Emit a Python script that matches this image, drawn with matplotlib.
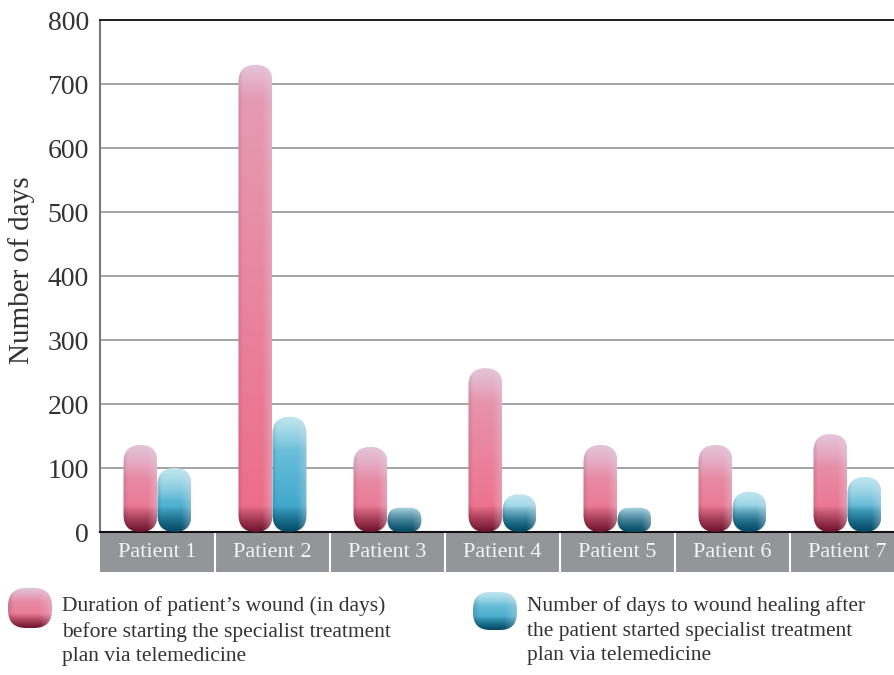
import numpy as np
import matplotlib
matplotlib.use('Agg')
import matplotlib.pyplot as plt
from matplotlib.patches import FancyBboxPatch, Rectangle

# ---- data ----
patients = ['Patient 1', 'Patient 2', 'Patient 3', 'Patient 4', 'Patient 5', 'Patient 6', 'Patient 7']
wound_duration = [136, 730, 133, 256, 136, 136, 153]
healing_days = [100, 180, 38, 59, 38, 63, 86]
yticks = [0, 100, 200, 300, 400, 500, 600, 700, 800]
legend_labels = [
    "Duration of patient\u2019s wound (in days)\nbefore starting the specialist treatment\nplan via telemedicine",
    "Number of days to wound healing after\nthe patient started specialist treatment\nplan via telemedicine",
]
ylabel = "Number of days"

plt.rcParams['font.family'] = ['Liberation Serif', 'DejaVu Serif']

W, H = 895, 675
fig = plt.figure(figsize=(W / 100, H / 100), dpi=100)
ax_left, ax_bottom_px, ax_top_px = 100, 532, 20
ax_w_px = W - ax_left
ax_h_px = ax_bottom_px - ax_top_px
ax = fig.add_axes([ax_left / W, (H - ax_bottom_px) / H, ax_w_px / W, ax_h_px / H])

cat_px = 115.0
px_per_x = cat_px
px_per_y = ax_h_px / 800.0
aspect = px_per_x / px_per_y

PALETTES = {
    'pink': dict(bot=(0.93, 0.42, 0.53), top=(0.90, 0.62, 0.72),
                 light=(0.89, 0.80, 0.88), dark=(0.42, 0.07, 0.17)),
    'blue': dict(bot=(0.18, 0.62, 0.78), top=(0.52, 0.80, 0.88),
                 light=(0.80, 0.92, 0.95), dark=(0.02, 0.28, 0.38)),
}


def make_grad(hpx, wpx, kind, dark_px=26, light_px=34):
    p = PALETTES[kind]
    nr = max(int(hpx), 4)
    nc = max(int(wpx), 4)
    y = (np.arange(nr) + 0.5) * hpx / nr
    f = (y / hpx)[:, None]
    bot = np.array(p['bot']); top = np.array(p['top'])
    base = bot + (top - bot) * f
    topw = np.clip(1 - (hpx - y) / light_px, 0, 1)[:, None] * 0.85
    col = base * (1 - topw) + np.array(p['light']) * topw
    botw = (np.clip(1 - y / dark_px, 0, 1) ** 0.9)[:, None]
    col = col * (1 - botw) + np.array(p['dark']) * botw
    img = np.repeat(col[:, None, :], nc, axis=1)
    u = (np.arange(nc) + 0.5) / nc
    hw = (np.clip((u - 0.72) / 0.28, 0, 1) * 0.35)[None, :, None]
    img = img * (1 - hw) + np.array([0.88, 0.86, 0.90]) * hw
    lw = (np.clip((0.15 - u) / 0.15, 0, 1) * 0.12)[None, :, None]
    img = img * (1 - lw)
    return np.clip(img, 0, 1)


def draw_pill(ax, x0, w, h, kind):
    r = min(w / 2, h / (2 * aspect))
    patch = FancyBboxPatch((x0, 0), w, h, boxstyle=f"round,pad=0,rounding_size={r}",
                           mutation_aspect=aspect, facecolor='none', edgecolor='none')
    ax.add_patch(patch)
    img = make_grad(h * px_per_y, w * px_per_x, kind)
    im = ax.imshow(img, extent=[x0, x0 + w, 0, h], origin='lower', aspect='auto',
                   interpolation='bilinear', zorder=3)
    im.set_clip_path(patch)


bw = 34 / cat_px
x = np.arange(len(patients))
for i in range(len(patients)):
    draw_pill(ax, x[i] - bw, bw, wound_duration[i], 'pink')
    draw_pill(ax, x[i], bw, healing_days[i], 'blue')

ax.set_xlim(-0.5, -0.5 + ax_w_px / cat_px)
ax.set_ylim(0, 800)
ax.set_yticks(yticks)
ax.set_yticklabels([str(t) for t in yticks], fontsize=20, color='#333333')
ax.tick_params(axis='y', length=0, pad=8)
ax.set_xticks([])
ax.grid(axis='y', color='#9c9c9c', lw=1.3)
ax.set_axisbelow(True)
ax.spines['right'].set_visible(False)
ax.spines['top'].set_color('#111111'); ax.spines['top'].set_linewidth(1.3)
ax.spines['bottom'].set_color('#111111'); ax.spines['bottom'].set_linewidth(1.5)
ax.spines['left'].set_color('#7a7a7a'); ax.spines['left'].set_linewidth(1.5)

# category boxes
box_h = 40 / px_per_y
for i, name in enumerate(patients):
    ax.add_patch(Rectangle((i - 0.5, -box_h), 1, box_h, facecolor='#939598',
                           edgecolor='none', clip_on=False, zorder=1))
    if i > 0:
        ax.plot([i - 0.5, i - 0.5], [-box_h, 0], color='white', lw=1.5,
                clip_on=False, zorder=2)
    ax.text(i, -box_h / 2 - 1, name, ha='center', va='center', fontsize=16,
            color='#f4f4f4', clip_on=False)

fig.text(22 / W, 1 - 270 / H, ylabel, rotation=90, ha='center', va='center',
         fontsize=21, color='#333333')

# legend
icons = [(8, 588, 44, 40, 'pink'), (473, 592, 44, 38, 'blue')]
for (ix, iy, iw, ih, kind) in icons:
    iax = fig.add_axes([ix / W, 1 - (iy + ih) / H, iw / W, ih / H])
    iax.set_xlim(0, iw); iax.set_ylim(0, ih); iax.axis('off')
    patch = FancyBboxPatch((0, 0), iw, ih, boxstyle=f"round,pad=0,rounding_size={ih/2*0.9}",
                           facecolor='none', edgecolor='none')
    iax.add_patch(patch)
    im = iax.imshow(make_grad(ih, iw, kind, dark_px=14, light_px=14), extent=[0, iw, 0, ih],
                    origin='lower', aspect='auto', interpolation='bilinear')
    im.set_clip_path(patch)

fig.text(62 / W, 1 - 596 / H, legend_labels[0], ha='left', va='top', fontsize=15.5,
         linespacing=1.4, color='#333333')
fig.text(527 / W, 1 - 596 / H, legend_labels[1], ha='left', va='top', fontsize=15.5,
         linespacing=1.4, color='#333333')

fig.savefig('out.png', dpi=100)
